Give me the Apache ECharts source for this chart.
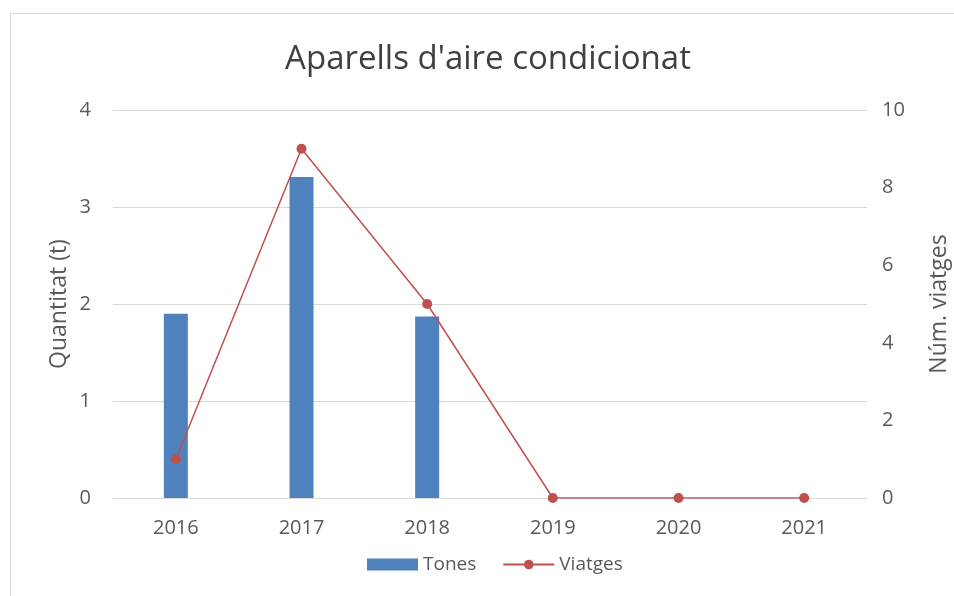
<!DOCTYPE html>
<html lang="ca">
<head>
    <meta charset="UTF-8">
    <title>Aparells d'aire condicionat</title>
    <script src="https://cdn.jsdelivr.net/npm/echarts@6/dist/echarts.min.js"></script>
    <style>
        body { margin: 0; background: #fff; }
        #frame { position: absolute; left: 10px; top: 13px; width: 960px; height: 600px; border: 1px solid #d9d9d9; }
        #main { width: 954px; height: 596px; position: absolute; left: 0; top: 0; }
    </style>
</head>
<body>
<div id="frame"></div>
<div id="main"></div>
<script>
    // dades
    var anys = ['2016', '2017', '2018', '2019', '2020', '2021'];
    var tones = [1.9, 3.31, 1.87, 0, 0, 0];
    var viatges = [1, 9, 5, 0, 0, 0];

    var txt = '#595959';
    var font = '"Open Sans", "Liberation Sans", sans-serif';

    var chart = echarts.init(document.getElementById('main'));

    var option = {
        animation: false,
        textStyle: { fontFamily: font },
        title: {
            text: "Aparells d'aire condicionat",
            left: 483,
            top: 38,
            textAlign: 'center',
            textStyle: { fontSize: 33, fontWeight: 'normal', color: '#404040', fontFamily: font }
        },
        legend: {
            bottom: 17,
            left: 362,
            itemGap: 26,
            textStyle: { fontSize: 19, color: txt },
            data: [
                { name: 'Tones', icon: 'rect', itemStyle: { color: '#4f81bd' } },
                { name: 'Viatges' }
            ],
            itemWidth: 51,
            itemHeight: 12
        },
        grid: { left: 113, right: 87, top: 110, bottom: 98, containLabel: false, outerBoundsMode: 'none' },
        xAxis: {
            type: 'category',
            data: anys,
            axisLine: { lineStyle: { color: '#d9d9d9' } },
            axisTick: { show: false },
            axisLabel: { color: txt, fontSize: 20, margin: 20 }
        },
        yAxis: [
            {
                type: 'value',
                min: 0, max: 4, interval: 1,
                name: 'Quantitat (t)',
                nameLocation: 'middle',
                nameGap: 42,
                nameMoveOverlap: false,
                nameTextStyle: { color: txt, fontSize: 23 },
                axisLabel: { color: txt, fontSize: 20, margin: 22 },
                splitLine: { lineStyle: { color: '#d9d9d9' } }
            },
            {
                type: 'value',
                min: 0, max: 10, interval: 2,
                name: 'Núm. viatges',
                nameLocation: 'middle',
                nameGap: 61,
                nameMoveOverlap: false,
                nameRotate: 90,
                nameTextStyle: { color: txt, fontSize: 23 },
                axisLabel: { color: txt, fontSize: 20, margin: 15 },
                splitLine: { show: false }
            }
        ],
        series: [
            {
                name: 'Tones',
                type: 'bar',
                data: tones,
                barWidth: 24,
                itemStyle: { color: '#4f81bd' }
            },
            {
                name: 'Viatges',
                type: 'line',
                yAxisIndex: 1,
                data: viatges,
                symbol: 'circle',
                symbolSize: 10,
                lineStyle: { color: '#c0504d', width: 1.5 },
                itemStyle: { color: '#c0504d' }
            }
        ]
    };

    chart.setOption(option);
</script>
</body>
</html>
